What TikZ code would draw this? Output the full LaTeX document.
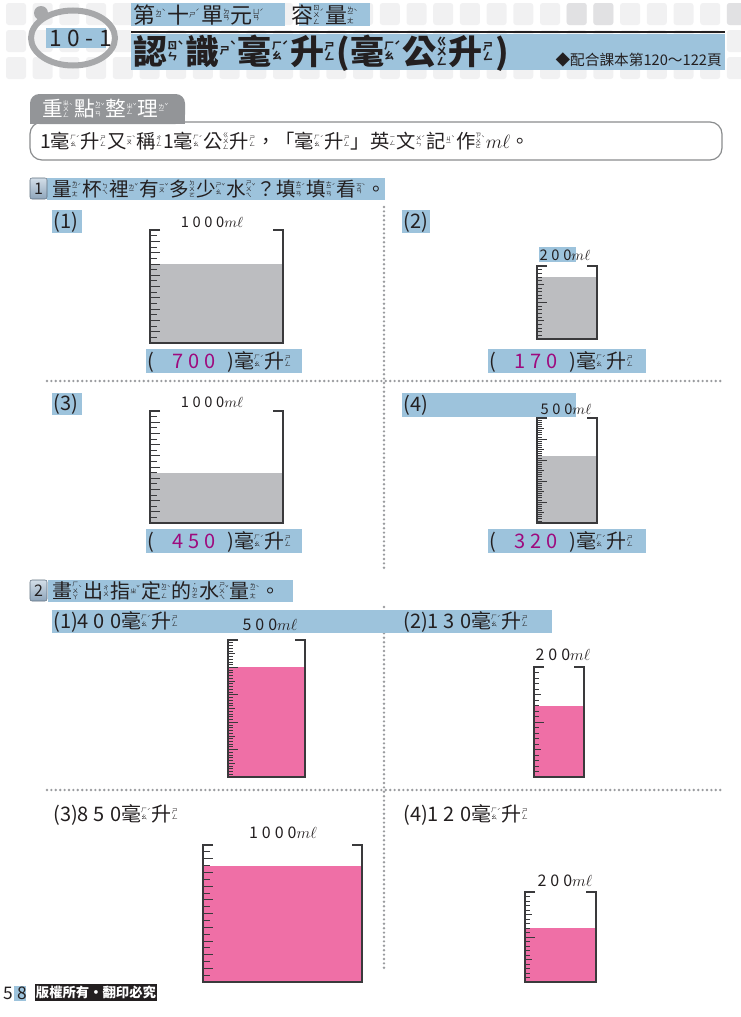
\documentclass[tikz,border=0pt]{standalone}
\usepackage{fontspec}
\usepackage{graphicx}
\setmainfont{Noto Sans CJK TC}
\newfontfamily\wide{Noto Sans CJK TC}[LetterSpace=25]
\usetikzlibrary{positioning}

\definecolor{hl}{HTML}{9DC3DC}
\definecolor{ink}{HTML}{231F20}
\definecolor{water}{HTML}{BCBDC0}
\definecolor{pinkwater}{HTML}{EF6FA6}
\definecolor{ansnum}{HTML}{9E0A7E}
\definecolor{ringgrey}{HTML}{A7A8AA}
\definecolor{tile}{HTML}{F1F1F2}
\definecolor{tiledark}{HTML}{E1E1E3}
\definecolor{tabgrey}{HTML}{939598}
\definecolor{boxgrey}{HTML}{8A8C8E}
\definecolor{dotgrey}{HTML}{9A9C9F}
\definecolor{wallgrey}{HTML}{3A3A3C}
\definecolor{markhi}{HTML}{D3DEE8}
\definecolor{marklo}{HTML}{8EA5BB}
\definecolor{markedge}{HTML}{5E6E7E}

\newcommand\setfs[1]{\fontsize{#1}{#1}\selectfont}
\newcommand\zy[3]{#1\raisebox{\dimexpr0.38em-0.5\height+0.5\depth\relax}[0pt][0pt]{\scalebox{0.3}{\shortstack{#2}}}\raisebox{0.42em}[0pt][0pt]{\scalebox{0.3}{#3}}\hspace{0.06em}}
\newcommand\hao{\zy{毫}{ㄏ\\ㄠ}{ˊ}}
\newcommand\sheng{\zy{升}{ㄕ\\ㄥ}{}}
\newcommand\gong{\zy{公}{ㄍ\\ㄨ\\ㄥ}{}}

% x, top, width, height, capacity, amount, colour, divisions
\newcommand\beaker[8]{%
  \fill[#7] (#1,{#2+#4*(1-#6/#5)}) rectangle ({#1+#3},{#2+#4});
  \pgfmathtruncatemacro\nk{#8-1}
  \pgfmathsetmacro\stepvol{#5/#8}
  \foreach \k in {1,...,\nk}{
    \pgfmathtruncatemacro\vol{round(\k*\stepvol)}
    \pgfmathsetmacro\tl{(mod(\vol,100)==0) ? 10 : ((mod(\vol,50)==0) ? 7 : 4.5)}
    \draw[tick] (#1,{#2+#4-\k*#4/#8}) -- ++(\tl,0);
  }
  \draw[wall] ({#1+10},#2) -- (#1,#2) -- (#1,{#2+#4}) -- ({#1+#3},{#2+#4}) -- ({#1+#3},#2) -- ({#1+#3-10},#2);
}

\begin{document}
\begin{tikzpicture}[x=0.75pt,y=-0.75pt,
    wall/.style={draw=wallgrey,line width=1pt},
    tick/.style={draw=wallgrey,line width=0.6pt},
    dotline/.style={draw=dotgrey,line width=2pt,line cap=round,dash pattern=on 0pt off 3.3pt},
    lbl/.style={anchor=west,inner sep=0pt,text=ink},
    ctr/.style={anchor=center,inner sep=0pt,text=ink}]
\useasboundingbox (0,0) rectangle (740,1017);

\foreach \c in {0,...,27}
  \foreach \r in {0,1,2}
    \fill[tile,rounded corners=2pt] ({6+\c*26.7},{3+\r*27}) rectangle ++(20,22);
\fill[tiledark,rounded corners=2pt] ({6+21*26.7},3) rectangle ++(20,22);
\fill[tiledark,rounded corners=2pt] ({6+22*26.7},3) rectangle ++(20,22);
\fill[tiledark,rounded corners=2pt] ({6+27*26.7},3) rectangle ++(20,22);

\draw[ringgrey,line width=4.5pt] (73,38) ellipse [x radius=42, y radius=27.5];
\fill[ringgrey] (41,13) circle [radius=7];
\fill[hl] (46,28) rectangle (106,48);
\node[lbl] (unitno) at (49,38) {\setfs{17}\wide 10-1};

\fill[hl] (131,3) rectangle (285,26);
\fill[hl] (299,3) rectangle (370,26);
\node[lbl] (unit) at (133,15) {\setfs{16.5}\zy{第}{ㄉ\\ㄧ}{ˋ}\zy{十}{ㄕ}{ˊ}\zy{單}{ㄉ\\ㄢ}{}\zy{元}{ㄩ\\ㄢ}{ˊ}\hspace{1.2em}\zy{容}{ㄖ\\ㄨ\\ㄥ}{ˊ}\zy{量}{ㄌ\\ㄧ\\ㄤ}{ˋ}};
\draw[ink,line width=1.2pt] (131,32) -- (725,32);
\fill[hl] (131,34) rectangle (725,70);
\node[lbl] (title) at (133,53) {\setfs{25.5}\bfseries\zy{認}{ㄖ\\ㄣ}{ˋ}\zy{識}{ㄕ}{ˋ}\hao\sheng(\hao\gong\sheng)};
\node[anchor=east,inner sep=0pt,text=ink] (pages) at (722,60) {\setfs{11}◆配合課本第120〜122頁};

\draw[boxgrey,line width=0.9pt,rounded corners=9pt] (30,122) rectangle (722,160);
\fill[tabgrey,rounded corners=7pt] (30,94) rectangle (185,124);
\fill[tabgrey] (30,110) rectangle (185,124);
\node[lbl,text=white] (tab) at (42,109) {\setfs{15.5}\zy{重}{ㄓ\\ㄨ\\ㄥ}{ˋ}\zy{點}{ㄉ\\ㄧ\\ㄢ}{ˇ}\zy{整}{ㄓ\\ㄥ}{ˇ}\zy{理}{ㄌ\\ㄧ}{ˇ}};
\node[lbl] (note) at (40,141) {\setfs{14.5}1\hao\sheng\zy{又}{ㄧ\\ㄡ}{ˋ}\zy{稱}{ㄔ\\ㄥ}{}1\hao\gong\sheng，「\hao\sheng」\zy{英}{ㄧ\\ㄥ}{}\zy{文}{ㄨ\\ㄣ}{ˊ}\zy{記}{ㄐ\\ㄧ}{ˋ}\zy{作}{ㄗ\\ㄨ\\ㄛ}{ˋ}$m\ell$。};

\fill[hl] (47,178) rectangle (385,200);
\shade[top color=markhi,bottom color=marklo,draw=markedge,rounded corners=1.5pt] (30,178) rectangle (47,199);
\node[ctr] (m1) at (38.5,189) {\setfs{12}1};
\node[lbl] (s1) at (52,189) {\setfs{14.7}\zy{量}{ㄌ\\ㄧ\\ㄤ}{ˊ}\zy{杯}{ㄅ\\ㄟ}{}\zy{裡}{ㄌ\\ㄧ}{ˇ}\zy{有}{ㄧ\\ㄡ}{ˇ}\zy{多}{ㄉ\\ㄨ\\ㄛ}{}\zy{少}{ㄕ\\ㄠ}{ˇ}\zy{水}{ㄕ\\ㄨ\\ㄟ}{ˇ}？\zy{填}{ㄊ\\ㄧ\\ㄢ}{ˊ}\zy{填}{ㄊ\\ㄧ\\ㄢ}{ˊ}\zy{看}{ㄎ\\ㄢ}{ˋ}。};

\draw[dotline] (384,207) -- (384,570);
\draw[dotline] (47,381) -- (723,381);

\fill[hl] (52,210) rectangle (82,233);
\node[lbl] (p1) at (53,222) {\setfs{15}(1)};
\node[ctr] (c1) at (212,222) {\setfs{11}\wide 1000$m\ell$};
\beaker{150}{230}{133}{113}{1000}{700}{water}{20}
\fill[hl] (146,349) rectangle (302,373);
\node[lbl] (a1) at (147,362) {\setfs{15}(\hspace{0.9em}{\color{ansnum}\wide 700}\hspace{0.6em})\hao\sheng};

\fill[hl] (402,210) rectangle (430,233);
\node[lbl] (p2) at (403,222) {\setfs{15}(2)};
\fill[hl] (539,247) rectangle (576,262);
\node[ctr] (c2) at (565,255) {\setfs{11}\wide 200$m\ell$};
\beaker{537}{266}{60}{73}{200}{170}{water}{20}
\fill[hl] (488,349) rectangle (646,373);
\node[lbl] (a2) at (489,362) {\setfs{15}(\hspace{0.9em}{\color{ansnum}\wide 170}\hspace{0.6em})\hao\sheng};

\fill[hl] (52,393) rectangle (82,415);
\node[lbl] (p3) at (53,404) {\setfs{15}(3)};
\node[ctr] (c3) at (212,402) {\setfs{11}\wide 1000$m\ell$};
\beaker{150}{411}{133}{112}{1000}{450}{water}{20}
\fill[hl] (146,529) rectangle (302,553);
\node[lbl] (a3) at (147,542) {\setfs{15}(\hspace{0.9em}{\color{ansnum}\wide 450}\hspace{0.6em})\hao\sheng};

\fill[hl] (402,393) rectangle (576,417);
\node[lbl] (p4) at (403,405) {\setfs{15}(4)};
\node[ctr] (c4) at (566,409) {\setfs{11}\wide 500$m\ell$};
\beaker{537}{418}{60}{105}{500}{320}{water}{50}
\fill[hl] (488,529) rectangle (646,553);
\node[lbl] (a4) at (489,542) {\setfs{15}(\hspace{0.9em}{\color{ansnum}\wide 320}\hspace{0.6em})\hao\sheng};

\fill[hl] (48,580) rectangle (293,602);
\shade[top color=markhi,bottom color=marklo,draw=markedge,rounded corners=1.5pt] (30,580) rectangle (47,601);
\node[ctr] (m2) at (38.5,591) {\setfs{12}2};
\node[lbl] (s2) at (52,591) {\setfs{15}\zy{畫}{ㄏ\\ㄨ\\ㄚ}{ˋ}\zy{出}{ㄔ\\ㄨ}{}\zy{指}{ㄓ}{ˇ}\zy{定}{ㄉ\\ㄧ\\ㄥ}{ˋ}\zy{的}{˙\\ㄉ\\ㄜ}{}\zy{水}{ㄕ\\ㄨ\\ㄟ}{ˇ}\zy{量}{ㄌ\\ㄧ\\ㄤ}{ˋ}。};

\draw[dotline] (384,607) -- (384,972);
\draw[dotline] (47,790) -- (723,790);

\fill[hl] (52,610) rectangle (385,633);
\fill[hl] (385,610) rectangle (552,633);
\node[lbl] (d1) at (53,622) {\setfs{15}(1){\wide 400}\hao\sheng};
\node[ctr] (e1) at (270,625) {\setfs{12}\wide 500$m\ell$};
\beaker{228}{640}{77}{137}{500}{400}{pinkwater}{50}

\node[lbl] (d2) at (403,622) {\setfs{15}(2){\wide 130}\hao\sheng};
\node[ctr] (e2) at (563,655) {\setfs{12}\wide 200$m\ell$};
\beaker{534}{667}{50}{110}{200}{130}{pinkwater}{20}

\node[lbl] (d3) at (53,815) {\setfs{15}(3){\wide 850}\hao\sheng};
\node[ctr] (e3) at (283,833) {\setfs{12}\wide 1000$m\ell$};
\beaker{203}{845}{159}{137}{1000}{850}{pinkwater}{20}

\node[lbl] (d4) at (403,815) {\setfs{15}(4){\wide 120}\hao\sheng};
\node[ctr] (e4) at (565,881) {\setfs{12}\wide 200$m\ell$};
\beaker{525}{892}{71}{90}{200}{120}{pinkwater}{20}

\fill[hl] (14,986) rectangle (26,1001);
\node[lbl] (pageno) at (3,993) {\setfs{13}\wide 58};
\fill[ink] (35,984) rectangle (157,1001);
\node[ctr,text=white] (rights) at (96,992.5) {\setfs{10}\bfseries 版權所有・翻印必究};
\end{tikzpicture}
\end{document}
